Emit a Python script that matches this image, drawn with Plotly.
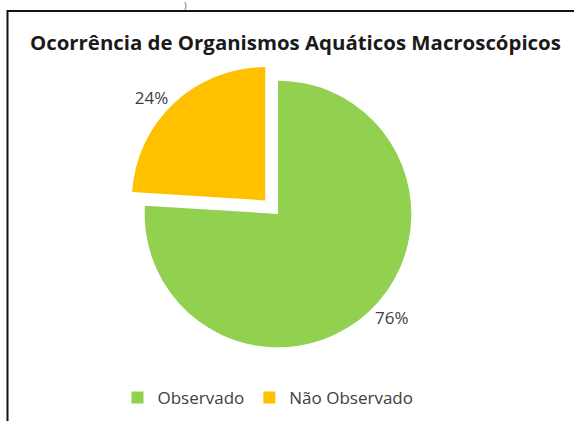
import plotly.graph_objects as go

categories = ["Observado", "Não Observado"]
values = [76, 24]
colors = ["#92D050", "#FFC000"]
pulls = [0, 0.14]
title_text = "Ocorrência de Organismos Aquáticos Macroscópicos"

W, H = 574, 421
FONT = "Open Sans, Noto Sans, sans-serif"

fig = go.Figure(go.Pie(
    labels=categories,
    values=values,
    marker=dict(colors=colors, line=dict(width=0)),
    pull=pulls,
    sort=False,
    direction="clockwise",
    rotation=0,
    textinfo="percent",
    texttemplate="%{percent:.0%}",
    textposition="outside",
    outsidetextfont=dict(size=17, color="#404040", family=FONT),
    domain=dict(x=[(278 - 152) / W, (278 + 152) / W], y=[1 - (214 + 152) / H, 1 - (214 - 152) / H]),
    showlegend=True,
    hoverinfo="skip",
))

fig.update_layout(
    width=W, height=H,
    margin=dict(l=0, r=0, t=0, b=0),
    paper_bgcolor="white",
    plot_bgcolor="white",
    font=dict(family=FONT, color="#404040"),
    legend=dict(
        orientation="h", x=268 / W, xanchor="center", y=1 - 398 / H, yanchor="middle",
        font=dict(size=17, color="#404040", family=FONT),
        itemwidth=30,
    ),
    annotations=[
        dict(text="<b>" + title_text + "</b>", x=295 / W, y=1 - 42 / H, xref="paper", yref="paper",
             xanchor="center", yanchor="middle", showarrow=False,
             font=dict(size=20.4, color="#1a1a1a", family=FONT)),
        dict(text=")", x=185 / W, y=1 - 5 / H, xref="paper", yref="paper",
             xanchor="center", yanchor="middle", showarrow=False,
             font=dict(size=9, color="#555555", family=FONT)),
    ],
    shapes=[
        dict(type="path", xref="paper", yref="paper",
             path=f"M {7.5 / W} 0 L {7.5 / W} {1 - 11 / H} L 1 {1 - 11 / H}",
             line=dict(color="#111111", width=2)),
    ],
)

fig.write_html("out.html")
